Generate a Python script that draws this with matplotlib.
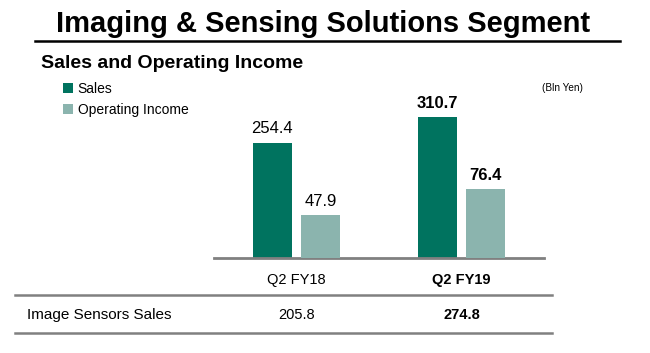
import numpy as np
import matplotlib
matplotlib.use('Agg')
import matplotlib.pyplot as plt
from matplotlib.lines import Line2D
import matplotlib.transforms as mtrans

plt.rcParams['font.family'] = ['Liberation Sans', 'DejaVu Sans']

periods = ['Q2 FY18', 'Q2 FY19']
sales = [254.4, 310.7]
op_income = [47.9, 76.4]
sensor_sales = [205.8, 274.8]
bold_period = [False, True]

c_sales = '#00735f'
c_oi = '#8bb4ae'
grey = '#808080'

W, H = 650, 353
fig = plt.figure(figsize=(W / 100, H / 100), dpi=100)


def fx(px):
    return px / W


def fy(py):
    return 1 - py / H


# main axes: baseline at y=258, x 214..544
ax = fig.add_axes([fx(214), fy(258), fx(544) - fx(214), fy(90) - fy(258)])
ax2 = ax.twinx()

x = np.arange(len(periods))
bw = 0.236
off = 0.147

ax.bar(x - off, sales, bw, color=c_sales, label='Sales')
ax2.bar(x + off, op_income, bw, color=c_oi, label='Operating Income')

# sales scale ~0.453 px per unit, op income ~0.9 px per unit (separate scales)
ax.set_ylim(0, 168 / 0.453)
ax2.set_ylim(0, 168 / 0.90)
ax.set_xlim(-0.5, 1.5)

for a in (ax, ax2):
    for s in ['top', 'left', 'right']:
        a.spines[s].set_visible(False)
    a.set_yticks([])
    a.spines['bottom'].set_visible(False)
ax.spines['bottom'].set_visible(True)
ax.spines['bottom'].set_color(grey)
ax.spines['bottom'].set_linewidth(2)
ax.spines['bottom'].set_zorder(5)

ax.set_xticks(x)
ax.set_xticklabels(periods, fontsize=10.5)
ax.tick_params(axis='x', length=0, pad=11)
for lbl, b in zip(ax.get_xticklabels(), bold_period):
    if b:
        lbl.set_fontweight('bold')

for i in range(len(periods)):
    fw = 'bold' if bold_period[i] else 'normal'
    ax.annotate(f'{sales[i]:.1f}', (x[i] - off, sales[i]), xytext=(0, 10),
                textcoords='offset points', ha='center', va='center',
                fontsize=12, fontweight=fw)
    ax2.annotate(f'{op_income[i]:.1f}', (x[i] + off, op_income[i]), xytext=(0, 10),
                 textcoords='offset points', ha='center', va='center',
                 fontsize=12, fontweight=fw)

# title and underline
fig.text(fx(323), fy(24), 'Imaging & Sensing Solutions Segment', ha='center', va='center',
         fontsize=21, fontweight='bold')
fig.add_artist(Line2D([fx(35), fx(620)], [fy(41), fy(41)], color='black', lw=1.8))

fig.text(fx(41), fy(63), 'Sales and Operating Income', ha='left', va='center',
         fontsize=14, fontweight='bold')

# legend
fig.legend(loc='upper left', bbox_to_anchor=(fx(63), fy(82)), frameon=False,
           fontsize=10, handlelength=0.7, handleheight=0.7, handletextpad=0.35,
           labelspacing=0.5, borderpad=0, borderaxespad=0)

fig.text(fx(583), fy(88), '(Bln Yen)', ha='right', va='center', fontsize=7.2)

# table rows
fig.add_artist(Line2D([fx(15), fx(552)], [fy(295), fy(295)], color=grey, lw=1.8))
fig.add_artist(Line2D([fx(15), fx(552)], [fy(333), fy(333)], color=grey, lw=1.8))
fig.text(fx(27), fy(315), 'Image Sensors Sales', ha='left', va='center', fontsize=11)
blend = mtrans.blended_transform_factory(ax.transData, fig.transFigure)
for i, v in enumerate(sensor_sales):
    fig.text(x[i], fy(315), f'{v:.1f}', transform=blend, ha='center', va='center',
             fontsize=10.5, fontweight='bold' if bold_period[i] else 'normal')

fig.savefig('out.png', dpi=100)
